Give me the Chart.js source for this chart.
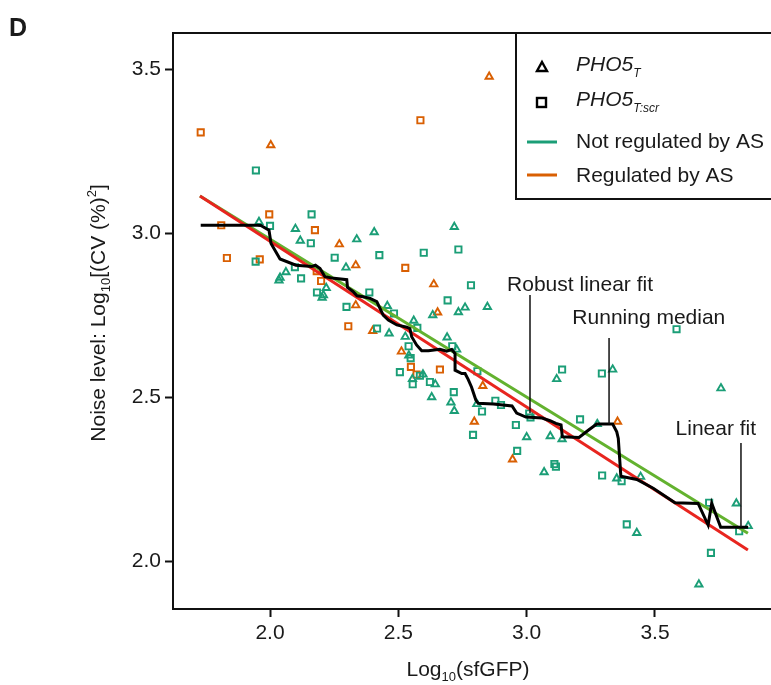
<!DOCTYPE html>
<html>
<head>
<meta charset="utf-8">
<script src="https://cdn.jsdelivr.net/npm/chart.js@4.4.1/dist/chart.umd.min.js"></script>
<style>
  html, body { margin: 0; padding: 0; background: #fff; overflow: hidden; }
  #wrap { position: relative; width: 771px; height: 685px; }
  canvas { display: block; }
</style>
</head>
<body>
<div id="wrap"><canvas id="noiseChart" width="771" height="685"></canvas></div>
<script>
// values, log10 units: [log10(sfGFP), log10(CV^2)]
const xTicks = [2.0, 2.5, 3.0, 3.5];
const yTicks = [2.0, 2.5, 3.0, 3.5];

// PHO5_T, not regulated by AS (green triangles)
const greenTriangles = [
  [1.957, 3.034], [2.099, 3.013], [2.118, 2.977], [2.338, 2.981], [2.406, 3.003],
  [2.718, 3.019], [2.296, 2.895], [2.062, 2.881], [2.039, 2.864], [2.035, 2.856],
  [2.219, 2.833], [2.208, 2.811], [2.203, 2.803], [2.457, 2.778], [2.634, 2.750],
  [2.734, 2.759], [2.760, 2.773], [2.847, 2.775], [2.464, 2.694], [2.560, 2.733],
  [2.527, 2.684], [2.541, 2.627], [2.690, 2.682], [2.727, 2.645], [2.555, 2.555],
  [2.596, 2.569], [2.644, 2.539], [2.630, 2.500], [2.705, 2.484], [2.718, 2.458],
  [2.806, 2.479], [3.117, 2.555], [3.335, 2.584], [3.757, 2.527], [3.000, 2.378],
  [3.092, 2.381], [3.138, 2.372], [3.068, 2.271], [3.275, 2.418], [3.351, 2.252],
  [3.444, 2.257], [3.817, 2.176], [3.863, 2.107], [3.429, 2.086], [3.671, 1.929]
];

// PHO5_T:scr, not regulated by AS (green squares)
const greenSquares = [
  [1.945, 3.191], [2.000, 3.022], [2.162, 3.057], [2.159, 2.969], [2.252, 2.925],
  [2.387, 2.819], [1.944, 2.913], [2.097, 2.896], [2.121, 2.862], [2.183, 2.819],
  [2.426, 2.933], [2.298, 2.775], [2.599, 2.940], [2.734, 2.950], [2.783, 2.841],
  [2.692, 2.795], [2.483, 2.755], [2.417, 2.709], [2.574, 2.711], [2.540, 2.655],
  [2.548, 2.619], [2.710, 2.655], [2.506, 2.576], [2.584, 2.565], [2.556, 2.539],
  [2.623, 2.546], [2.716, 2.515], [2.808, 2.579], [2.826, 2.456], [2.878, 2.489],
  [2.900, 2.476], [3.010, 2.450], [3.015, 2.438], [2.958, 2.415], [2.791, 2.385],
  [2.963, 2.336], [3.108, 2.296], [3.114, 2.288], [3.138, 2.584], [3.208, 2.432],
  [3.293, 2.572], [3.584, 2.707], [3.294, 2.261], [3.370, 2.244], [3.390, 2.112],
  [3.711, 2.178], [3.828, 2.091], [3.718, 2.025]
];

// PHO5_T, regulated by AS (orange triangles)
const orangeTriangles = [
  [2.003, 3.268], [2.854, 3.477], [2.270, 2.966], [2.334, 2.902], [2.334, 2.780],
  [2.638, 2.844], [2.653, 2.758], [2.400, 2.702], [2.512, 2.639], [2.829, 2.534],
  [2.796, 2.425], [2.945, 2.310], [3.354, 2.425]
];

// PHO5_T:scr, regulated by AS (orange squares)
const orangeSquares = [
  [1.730, 3.307], [2.586, 3.344], [1.997, 3.057], [1.810, 3.024], [2.175, 3.009],
  [1.832, 2.924], [1.960, 2.920], [2.182, 2.884], [2.199, 2.854], [2.305, 2.716],
  [2.527, 2.894], [2.549, 2.592], [2.662, 2.584], [2.571, 2.569]
];

// fits
const fitX = [1.727, 3.862];
const robustFitY = [3.113, 2.085];
const linearFitY = [3.113, 2.034];

// running median
const medianLine = [
  [1.730, 3.024], [1.951, 3.024], [1.964, 3.023], [1.996, 3.009], [2.004, 2.968],
  [2.039, 2.921], [2.101, 2.902], [2.162, 2.898], [2.177, 2.902], [2.195, 2.892],
  [2.214, 2.867], [2.249, 2.862], [2.299, 2.858], [2.302, 2.834], [2.323, 2.822],
  [2.339, 2.809], [2.363, 2.806], [2.390, 2.801], [2.416, 2.791], [2.441, 2.750],
  [2.461, 2.735], [2.494, 2.720], [2.533, 2.713], [2.545, 2.709], [2.552, 2.684],
  [2.571, 2.659], [2.591, 2.641], [2.617, 2.641], [2.662, 2.646], [2.688, 2.640],
  [2.708, 2.645], [2.721, 2.633], [2.721, 2.582], [2.747, 2.572], [2.760, 2.572],
  [2.772, 2.554], [2.785, 2.531], [2.802, 2.491], [2.811, 2.481], [2.870, 2.479],
  [2.943, 2.473], [2.961, 2.451], [2.997, 2.439], [3.060, 2.436], [3.091, 2.428],
  [3.114, 2.420], [3.134, 2.415], [3.139, 2.379], [3.204, 2.377], [3.240, 2.399],
  [3.273, 2.418], [3.335, 2.418], [3.351, 2.394], [3.357, 2.374], [3.367, 2.259],
  [3.429, 2.249], [3.493, 2.222], [3.578, 2.178], [3.668, 2.176], [3.707, 2.110],
  [3.721, 2.176], [3.756, 2.103], [3.863, 2.103]
];

const GREEN = "#1b9e77";
const ORANGE = "#d95f02";
const FONT = "'Liberation Sans', Arial, Helvetica, sans-serif";
const INK = "#1a1a1a";

const toPts = (arr) => arr.map((p) => ({ x: p[0], y: p[1] }));

// callout labels, anchored in data units
const callouts = [
  { text: "Robust linear fit", tx: 3.208, ty: 2.848, lx: 3.013, ly1: 2.811, ly2: 2.451 },
  { text: "Running median", tx: 3.476, ty: 2.747, lx: 3.321, ly1: 2.680, ly2: 2.418 },
  { text: "Linear fit", tx: 3.737, ty: 2.409, lx: 3.835, ly1: 2.360, ly2: 2.104 },
];

// draw a run of text pieces (for sub/superscripts)
function drawRich(ctx, parts, x, y, align) {
  let total = 0;
  parts.forEach((p) => {
    ctx.font = `${p.italic ? "italic " : ""}${p.bold ? "bold " : ""}${p.size}px ${FONT}`;
    p.w = ctx.measureText(p.t).width;
    total += p.w;
  });
  let cx = align === "center" ? x - total / 2 : x;
  parts.forEach((p) => {
    ctx.font = `${p.italic ? "italic " : ""}${p.bold ? "bold " : ""}${p.size}px ${FONT}`;
    ctx.fillText(p.t, cx, y + (p.dy || 0));
    cx += p.w;
  });
}

const decorPlugin = {
  id: "decor",
  afterDraw(chart) {
    const { ctx, chartArea: a, scales } = chart;
    const sx = scales.x, sy = scales.y;
    ctx.save();
    ctx.fillStyle = INK;
    ctx.textAlign = "left";
    ctx.textBaseline = "alphabetic";

    // top frame line
    ctx.strokeStyle = "#111";
    ctx.lineWidth = 2;
    ctx.beginPath();
    ctx.moveTo(a.left - 1, a.top);
    ctx.lineTo(a.right + 2, a.top);
    ctx.stroke();

    // panel letter
    drawRich(ctx, [{ t: "D", size: 25, bold: true }], 9, 36, "left");

    // axis titles
    drawRich(ctx, [
      { t: "Log", size: 21 },
      { t: "10", size: 13, dy: 5 },
      { t: "(sfGFP)", size: 21 },
    ], (a.left + a.right) / 2 - 4, 676, "center");

    ctx.save();
    ctx.translate(105, (a.top + a.bottom) / 2 - 8);
    ctx.rotate(-Math.PI / 2);
    drawRich(ctx, [
      { t: "Noise level: Log", size: 21 },
      { t: "10", size: 13, dy: 5 },
      { t: "[(CV (%)", size: 21 },
      { t: "2", size: 13, dy: -9 },
      { t: "]", size: 21 },
    ], 0, 0, "center");
    ctx.restore();

    // callouts
    ctx.strokeStyle = "#111";
    ctx.lineWidth = 1.5;
    callouts.forEach((c) => {
      const lx = sx.getPixelForValue(c.lx);
      ctx.beginPath();
      ctx.moveTo(lx, sy.getPixelForValue(c.ly1));
      ctx.lineTo(lx, sy.getPixelForValue(c.ly2));
      ctx.stroke();
      drawRich(ctx, [{ t: c.text, size: 21 }], sx.getPixelForValue(c.tx),
        sy.getPixelForValue(c.ty) + 8, "center");
    });

    // legend box (runs off the right edge like the source)
    const bx = 516, by = a.top, bw = a.right - bx + 10, bh = 166;
    ctx.fillStyle = "#fff";
    ctx.fillRect(bx, by, bw, bh);
    ctx.strokeStyle = "#111";
    ctx.lineWidth = 2;
    ctx.strokeRect(bx, by, bw, bh);

    ctx.strokeStyle = "#000";
    ctx.lineWidth = 2.4;
    // triangle
    ctx.beginPath();
    ctx.moveTo(542, 62);
    ctx.lineTo(547, 71);
    ctx.lineTo(537, 71);
    ctx.closePath();
    ctx.stroke();
    // square
    ctx.strokeRect(537, 98, 9, 9);
    // lines
    ctx.lineWidth = 3;
    ctx.strokeStyle = GREEN;
    ctx.beginPath(); ctx.moveTo(527, 142); ctx.lineTo(557, 142); ctx.stroke();
    ctx.strokeStyle = ORANGE;
    ctx.beginPath(); ctx.moveTo(527, 175); ctx.lineTo(557, 175); ctx.stroke();

    ctx.fillStyle = INK;
    drawRich(ctx, [
      { t: "PHO5", size: 21, italic: true },
      { t: "T", size: 12, italic: true, dy: 6 },
    ], 576, 71, "left");
    drawRich(ctx, [
      { t: "PHO5", size: 21, italic: true },
      { t: "T:scr", size: 12, italic: true, dy: 6 },
    ], 576, 106, "left");
    drawRich(ctx, [{ t: "Not regulated by AS", size: 21 }], 576, 148, "left");
    drawRich(ctx, [{ t: "Regulated by AS", size: 21 }], 576, 182, "left");

    ctx.restore();
  },
};

const markerDs = (label, arr, color, style, radius, order) => ({
  label: label,
  data: toPts(arr),
  pointStyle: style,
  pointRadius: radius,
  pointBorderWidth: 1.9,
  pointBorderColor: color,
  pointBackgroundColor: "rgba(255,255,255,0)",
  showLine: false,
  order: order,
});

const lineDs = (label, pts, color, width, order) => ({
  label: label,
  data: pts,
  showLine: true,
  borderColor: color,
  borderWidth: width,
  pointRadius: 0,
  tension: 0,
  fill: false,
  order: order,
});

const axisCommon = {
  type: "linear",
  grid: {
    drawOnChartArea: false,
    drawTicks: true,
    tickLength: 8,
    tickWidth: 2,
    tickColor: "#111",
  },
  border: { display: true, width: 2, color: "#111" },
};

const ctx = document.getElementById("noiseChart");
new Chart(ctx, {
  type: "scatter",
  data: {
    datasets: [
      lineDs("Running median", toPts(medianLine), "#000", 3, 0),
      lineDs("Linear fit", fitX.map((x, i) => ({ x: x, y: linearFitY[i] })), "#e8251f", 3, 1),
      lineDs("Robust linear fit", fitX.map((x, i) => ({ x: x, y: robustFitY[i] })), "#63b22f", 3, 2),
      markerDs("PHO5_T not regulated", greenTriangles, GREEN, "triangle", 4.2, 3),
      markerDs("PHO5_T:scr not regulated", greenSquares, GREEN, "rect", 4.4, 4),
      markerDs("PHO5_T regulated", orangeTriangles, ORANGE, "triangle", 4.2, 5),
      markerDs("PHO5_T:scr regulated", orangeSquares, ORANGE, "rect", 4.4, 6),
    ],
  },
  options: {
    responsive: false,
    animation: false,
    layout: { autoPadding: false, padding: { top: 33, right: 0, bottom: 0, left: 0 } },
    plugins: {
      legend: { display: false },
      tooltip: { enabled: false },
    },
    scales: {
      x: {
        ...axisCommon,
        min: 1.622,
        max: 3.952,
        afterBuildTicks: (axis) => { axis.ticks = xTicks.map((v) => ({ value: v })); },
        afterFit: (axis) => { axis.height = 76; },
        ticks: {
          font: { family: FONT, size: 21 },
          color: INK,
          padding: 4,
          maxRotation: 0,
          callback: (v) => Number(v).toFixed(1),
        },
      },
      y: {
        ...axisCommon,
        min: 1.854,
        max: 3.61,
        afterBuildTicks: (axis) => { axis.ticks = yTicks.map((v) => ({ value: v })); },
        afterFit: (axis) => { axis.width = 173; },
        ticks: {
          font: { family: FONT, size: 21 },
          color: INK,
          padding: 4,
          callback: (v) => Number(v).toFixed(1),
        },
      },
    },
  },
  plugins: [decorPlugin],
});
</script>
</body>
</html>
